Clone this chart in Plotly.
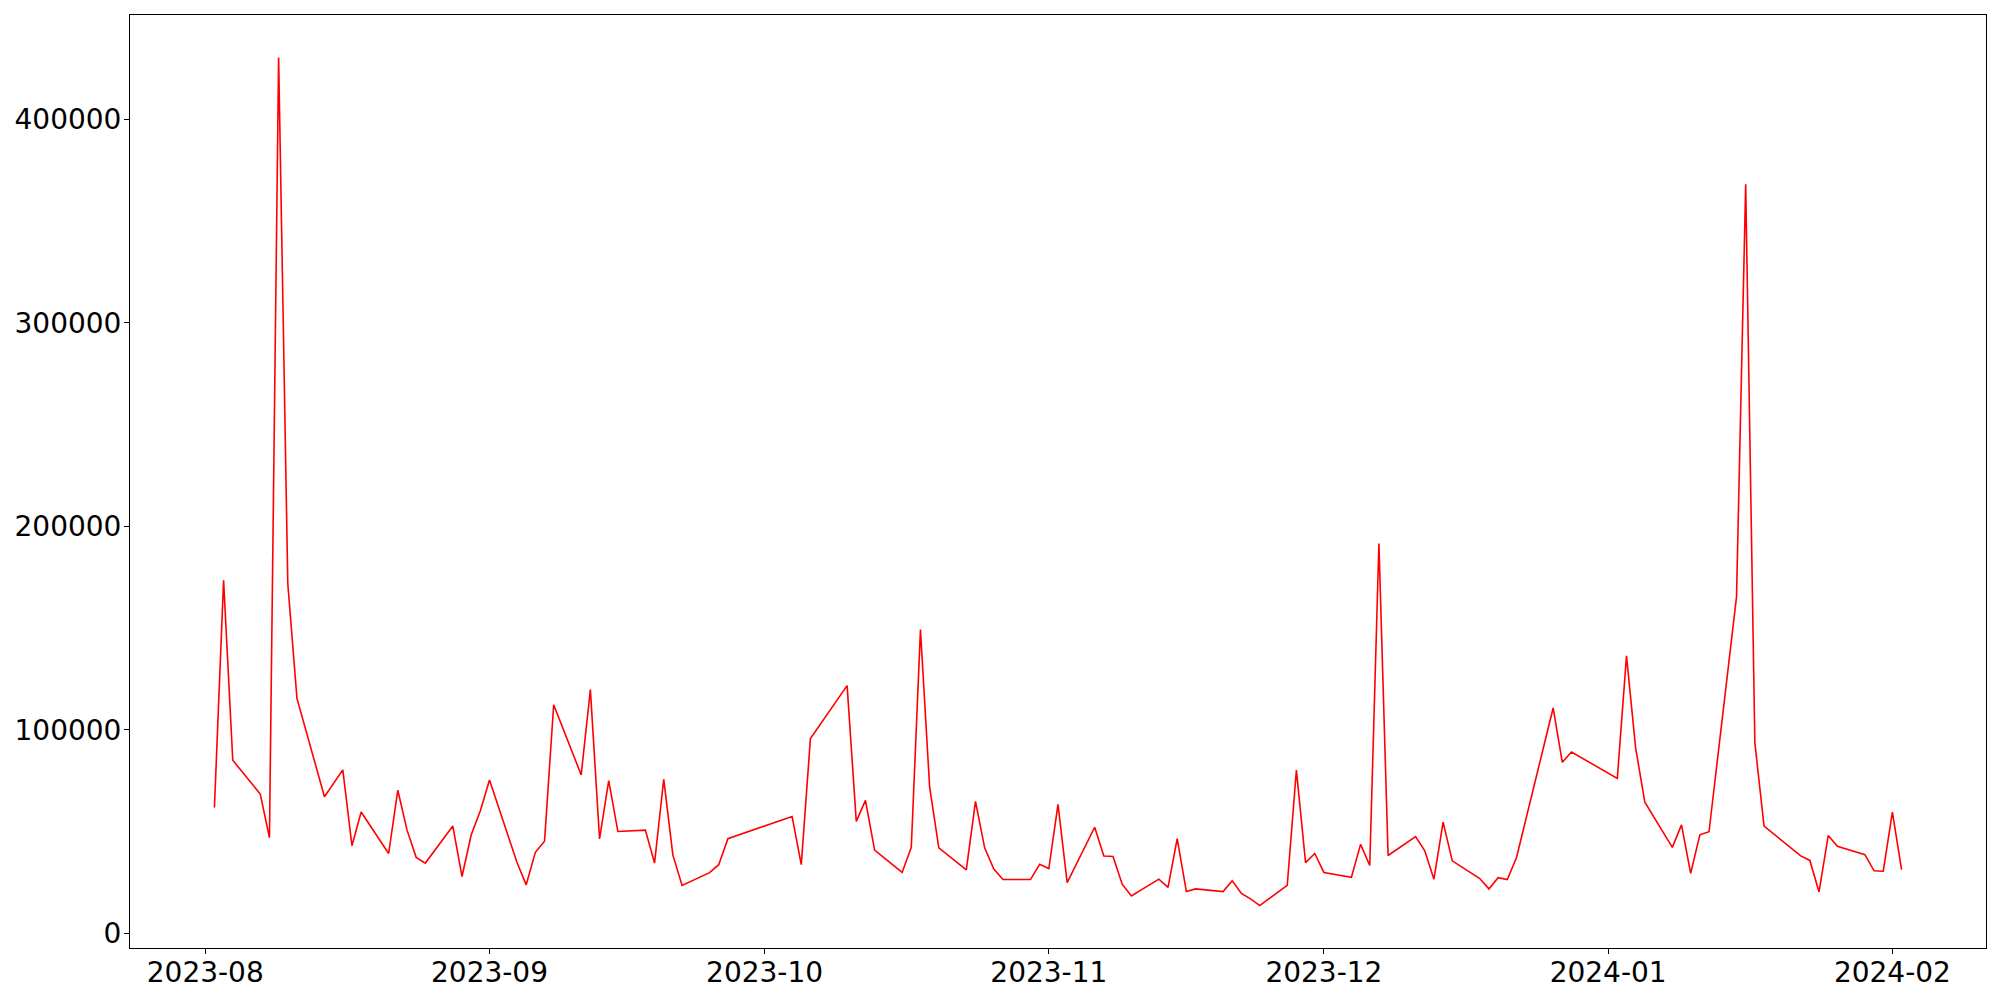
import plotly.graph_objects as go

dates = [
    "2023-08-02", "2023-08-03", "2023-08-04", "2023-08-07", "2023-08-08", "2023-08-09",
    "2023-08-10", "2023-08-11", "2023-08-14", "2023-08-16", "2023-08-17", "2023-08-18",
    "2023-08-21", "2023-08-22", "2023-08-23", "2023-08-24", "2023-08-25", "2023-08-28",
    "2023-08-29", "2023-08-30", "2023-08-31", "2023-09-01", "2023-09-04", "2023-09-05",
    "2023-09-06", "2023-09-07", "2023-09-08", "2023-09-11", "2023-09-12", "2023-09-13",
    "2023-09-14", "2023-09-15", "2023-09-18", "2023-09-19", "2023-09-20", "2023-09-21",
    "2023-09-22", "2023-09-25", "2023-09-26", "2023-09-27", "2023-10-04", "2023-10-05",
    "2023-10-06", "2023-10-10", "2023-10-11", "2023-10-12", "2023-10-13", "2023-10-16",
    "2023-10-17", "2023-10-18", "2023-10-19", "2023-10-20", "2023-10-23", "2023-10-24",
    "2023-10-25", "2023-10-26", "2023-10-27", "2023-10-30", "2023-10-31", "2023-11-01",
    "2023-11-02", "2023-11-03", "2023-11-06", "2023-11-07", "2023-11-08", "2023-11-09",
    "2023-11-10", "2023-11-13", "2023-11-14", "2023-11-15", "2023-11-16", "2023-11-17",
    "2023-11-20", "2023-11-21", "2023-11-22", "2023-11-23", "2023-11-24", "2023-11-27",
    "2023-11-28", "2023-11-29", "2023-11-30", "2023-12-01", "2023-12-04", "2023-12-05",
    "2023-12-06", "2023-12-07", "2023-12-08", "2023-12-11", "2023-12-12", "2023-12-13",
    "2023-12-14", "2023-12-15", "2023-12-18", "2023-12-19", "2023-12-20", "2023-12-21",
    "2023-12-22", "2023-12-26", "2023-12-27", "2023-12-28", "2024-01-02", "2024-01-03",
    "2024-01-04", "2024-01-05", "2024-01-08", "2024-01-09", "2024-01-10", "2024-01-11",
    "2024-01-12", "2024-01-15", "2024-01-16", "2024-01-17", "2024-01-18", "2024-01-22",
    "2024-01-23", "2024-01-24", "2024-01-25", "2024-01-26", "2024-01-29", "2024-01-30",
    "2024-01-31", "2024-02-01", "2024-02-02",
]

values = [
    61800, 173500, 85000, 68400, 47000, 430400,
    171900, 115400, 67100, 80300, 43000, 59600,
    39200, 70300, 50800, 37300, 34500, 52700,
    27900, 48300, 60200, 75300, 34800, 23800,
    39800, 45200, 112300, 77800, 119800, 46400,
    75000, 50000, 50700, 34500, 75700, 38400,
    23500, 29800, 33700, 46500, 57400, 33700,
    95700, 121700, 55000, 65300, 40900, 29900,
    42200, 149200, 71900, 42000, 31100, 64800,
    42000, 31600, 26400, 26400, 33900, 31800,
    63300, 24900, 52100, 38000, 37700, 24100,
    18300, 26600, 22600, 46500, 20500, 21800,
    20500, 25800, 19600, 16900, 13600, 23500,
    80200, 34700, 39200, 29900, 27500, 43700,
    33300, 191500, 38200, 47500, 40500, 26600,
    54600, 35600, 26900, 21800, 27300, 26400,
    37100, 110700, 84000, 89100, 76100, 136300,
    91000, 64400, 42200, 53300, 29400, 48400,
    49900, 165300, 368100, 93600, 52700, 38000,
    35800, 20300, 48000, 42700, 38600, 30700,
    30500, 59500, 31300,
]

x_tick_vals = ["2023-08-01", "2023-09-01", "2023-10-01", "2023-11-01",
               "2023-12-01", "2024-01-01", "2024-02-01"]
x_tick_text = ["2023-08", "2023-09", "2023-10", "2023-11", "2023-12", "2024-01", "2024-02"]
y_tick_vals = [0, 100000, 200000, 300000, 400000]
y_tick_text = ["0", "100000", "200000", "300000", "400000"]

fig = go.Figure()
fig.add_trace(go.Scatter(
    x=dates, y=values, mode="lines",
    line=dict(color="red", width=1.6),
    showlegend=False,
))

font = dict(family="DejaVu Sans", size=28, color="black")
fig.update_layout(
    width=1984, height=992,
    margin=dict(l=122, r=6, t=7, b=52),
    paper_bgcolor="white", plot_bgcolor="white",
    font=font,
)
fig.update_xaxes(
    type="date", automargin=False,
    range=["2023-07-23 19:00", "2024-02-11 05:00"],
    tickvals=x_tick_vals, ticktext=x_tick_text,
    ticks="outside", ticklen=5, tickwidth=1, tickcolor="black",
    ticklabelstandoff=-6,
    showline=True, linecolor="black", linewidth=1, mirror=True,
    showgrid=False, zeroline=False, tickfont=font,
)
fig.update_yaxes(
    automargin=False,
    range=[-7240, 451240],
    tickvals=y_tick_vals, ticktext=y_tick_text,
    ticks="outside", ticklen=5, tickwidth=1, tickcolor="black",
    ticklabelstandoff=-3,
    showline=True, linecolor="black", linewidth=1, mirror=True,
    showgrid=False, zeroline=False, tickfont=font,
)

fig.write_html("out.html")
